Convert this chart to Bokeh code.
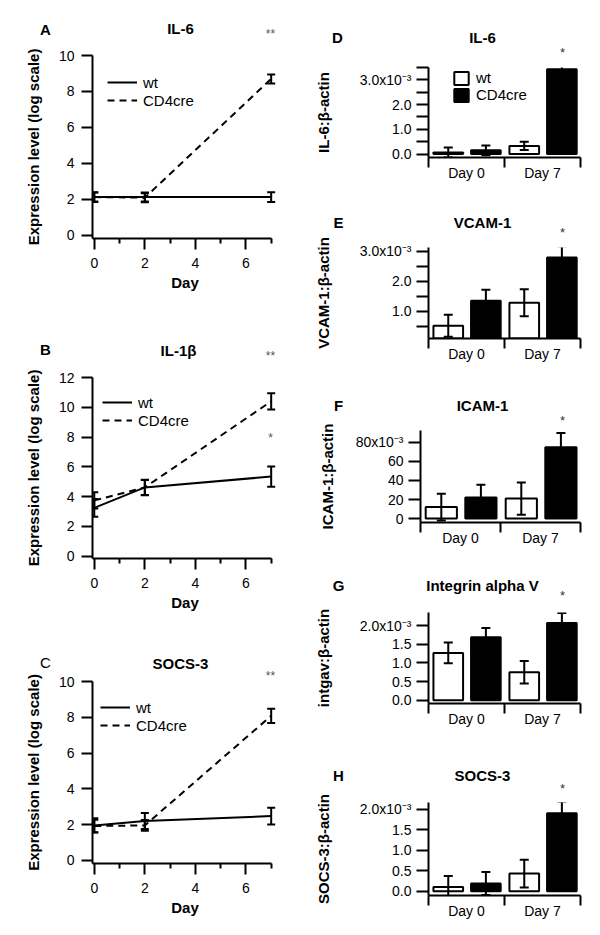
from bokeh.plotting import figure
from bokeh.models import (Range1d, FixedTicker, Legend, LegendItem, Label,
                          Whisker, TeeHead, ColumnDataSource)
from bokeh.layouts import row, column
from bokeh.embed import file_html
from bokeh.resources import INLINE

FONT = "Liberation Sans"

# ---------------- data: time courses (log scale expression) ----------------
days = [0, 2, 7]
il6_wt = [2.13, 2.13, 2.13]
il6_wt_err = [0.27, 0.25, 0.27]
il6_cre = [2.13, 2.10, 8.70]
il6_cre_err = [0.25, 0.25, 0.25]

il1b_wt = [3.25, 4.62, 5.35]
il1b_wt_err = [0.60, 0.52, 0.68]
il1b_cre = [3.75, 4.62, 10.40]
il1b_cre_err = [0.55, 0.50, 0.55]

socs3_wt = [1.95, 2.20, 2.47]
socs3_wt_err = [0.40, 0.45, 0.47]
socs3_cre = [1.92, 1.95, 8.08]
socs3_cre_err = [0.35, 0.30, 0.40]

# ---------------- data: bar panels (x10^-3, ratio to beta-actin) ----------------
groups = ["Day 0", "Day 7"]
il6b_wt = [0.06, 0.33]
il6b_wt_err = [0.20, 0.17]
il6b_cre = [0.15, 3.43]
il6b_cre_err = [0.20, 0.20]

vcam_wt = [0.52, 1.29]
vcam_wt_err = [0.37, 0.45]
vcam_cre = [1.35, 2.80]
vcam_cre_err = [0.37, 0.37]

icam_wt = [12, 21]
icam_wt_err = [14, 17]
icam_cre = [22, 75]
icam_cre_err = [13.5, 15]

itgav_wt = [1.27, 0.75]
itgav_wt_err = [0.28, 0.30]
itgav_cre = [1.69, 2.07]
itgav_cre_err = [0.25, 0.27]

socs3b_wt = [0.10, 0.43]
socs3b_wt_err = [0.27, 0.34]
socs3b_cre = [0.19, 1.90]
socs3b_cre_err = [0.28, 0.28]

SUP = "x10\u207b\u00b3"
GRAY = "#555555"
DARK = "#333333"


def make_fig(w, h, bl, br, bt, bb, xr, yr, overlap):
    p = figure(width=w, height=h, x_range=Range1d(*xr), y_range=Range1d(*yr),
               output_backend="svg", toolbar_location=None,
               min_border_left=bl, min_border_right=br,
               min_border_top=bt, min_border_bottom=bb,
               frame_align=False, margin=(-overlap, 0, 0, 0))
    p.outline_line_color = None
    p.xgrid.visible = False
    p.ygrid.visible = False
    p.background_fill_alpha = 0
    p.border_fill_alpha = 0
    return p


def header(x0, top, h, texts):
    p = figure(width=300, height=h, x_range=Range1d(x0, x0 + 300),
               y_range=Range1d(top + h, top), x_axis_type=None, y_axis_type=None,
               output_backend="svg", toolbar_location=None, min_border=0,
               frame_align=False)
    p.outline_line_color = None
    p.background_fill_alpha = 0
    p.border_fill_alpha = 0
    for (x, y, text, size, bold, color) in texts:
        p.add_layout(Label(x=x, y=y, text=text, text_font=FONT, text_font_size=size,
                           text_font_style="bold" if bold else "normal",
                           text_color=color, text_align="center", text_baseline="middle"))
    return p


def style_axis(ax, tick_out, standoff, label_standoff):
    ax.axis_line_width = 2
    ax.axis_line_color = "black"
    ax.major_tick_line_width = 2
    ax.minor_tick_line_width = 2
    ax.major_tick_line_color = "black"
    ax.minor_tick_line_color = "black"
    ax.major_tick_in = 0
    ax.minor_tick_in = 0
    ax.major_tick_out = tick_out
    ax.major_label_text_font = FONT
    ax.major_label_text_font_size = "14px"
    ax.major_label_text_color = "black"
    ax.major_label_standoff = standoff
    ax.axis_label_text_font = FONT
    ax.axis_label_text_font_size = "15px"
    ax.axis_label_text_font_style = "bold"
    ax.axis_label_text_color = "black"
    ax.axis_label_standoff = label_standoff


def to_data(geo, rx, ry):
    fl, ft, fw, fh, (x0, x1), (y0, y1) = geo
    return x0 + (rx - fl) / fw * (x1 - x0), y1 - (ry - ft) / fh * (y1 - y0)


def add_whisker(p, xs, vals, errs, size):
    src = ColumnDataSource(dict(x=xs, upper=[v + e for v, e in zip(vals, errs)],
                                lower=[v - e for v, e in zip(vals, errs)]))
    p.add_layout(Whisker(source=src, base="x", upper="upper", lower="lower",
                         line_width=2, line_color="black", level="annotation",
                         upper_head=TeeHead(size=size, line_width=2, line_color="black"),
                         lower_head=TeeHead(size=size, line_width=2, line_color="black")))


def line_panel(top, h, bt, bb, overlap, yr, yticks, inner_stars, legend_loc,
               wt, wt_err, cre, cre_err):
    w, bl, br = 300, 92, 23
    xr = (-0.07, 7.25)
    p = make_fig(w, h, bl, br, bt, bb, xr, yr, overlap)
    geo = (bl, top + bt, w - bl - br, h - bt - bb, xr, yr)
    r_wt = p.line(days, wt, line_color="black", line_width=2)
    r_cre = p.line(days, cre, line_color="black", line_width=2, line_dash="7 5")
    add_whisker(p, days, wt, wt_err, 8)
    add_whisker(p, days, cre, cre_err, 8)

    p.xaxis.ticker = FixedTicker(ticks=[0, 2, 4, 6], minor_ticks=[1, 3, 5, 7])
    p.xaxis.bounds = (xr[0], 7)
    p.xaxis.axis_label = "Day"
    style_axis(p.xaxis[0], 11, 8, 3)
    p.xaxis.minor_tick_out = 5
    p.yaxis.ticker = FixedTicker(ticks=yticks, minor_ticks=[])
    p.yaxis.axis_label = "Expression level (log scale)"
    style_axis(p.yaxis[0], 11, 7, 14)

    leg = Legend(items=[LegendItem(label="wt", renderers=[r_wt]),
                        LegendItem(label="CD4cre", renderers=[r_cre])],
                 location=legend_loc, orientation="vertical",
                 background_fill_alpha=0, border_line_alpha=0,
                 padding=0, margin=0, spacing=0,
                 glyph_width=30, glyph_height=18, label_height=18, label_standoff=6,
                 label_text_font=FONT, label_text_font_size="15px", label_text_color="black")
    p.add_layout(leg)

    for (sx, sy, s) in inner_stars:
        x, y = to_data(geo, sx, sy)
        p.add_layout(Label(x=x, y=y, text=s, text_font=FONT, text_font_size="12px",
                           text_color=GRAY, text_align="center", text_baseline="middle"))
    return p


def bar_panel(h, bl, bt, bb, overlap, yr, yticks, ylabels, ylabel,
              wt, wt_err, cre, cre_err, legend_loc=None):
    w, br = 300, 20
    xr = (0, len(groups))
    p = make_fig(w, h, bl, br, bt, bb, xr, yr, overlap)
    x_wt = [i + 0.26 for i in range(len(groups))]
    x_cre = [i + 0.755 for i in range(len(groups))]
    r_wt = p.vbar(x=x_wt, top=wt, bottom=0, width=0.39, fill_color="white",
                  line_color="black", line_width=2)
    r_cre = p.vbar(x=x_cre, top=cre, bottom=0, width=0.39, fill_color="black",
                   line_color="black", line_width=2)
    add_whisker(p, x_wt, wt, wt_err, 9)
    add_whisker(p, x_cre, cre, cre_err, 9)

    centers = [i + 0.5 for i in range(len(groups))]
    p.xaxis.ticker = FixedTicker(ticks=centers, minor_ticks=list(range(len(groups) + 1)))
    p.xaxis.major_label_overrides = dict(zip(centers, groups))
    style_axis(p.xaxis[0], 0, -3, 3)
    p.xaxis.minor_tick_out = 10

    p.yaxis.ticker = FixedTicker(ticks=yticks, minor_ticks=[])
    p.yaxis.major_label_overrides = dict(zip(yticks, ylabels))
    p.yaxis.axis_label = ylabel
    style_axis(p.yaxis[0], 12, 5, 25 - (128 - bl))

    if legend_loc is not None:
        leg = Legend(items=[LegendItem(label="wt", renderers=[r_wt]),
                            LegendItem(label="CD4cre", renderers=[r_cre])],
                     location=legend_loc, orientation="vertical",
                     background_fill_alpha=0, border_line_alpha=0,
                     padding=0, margin=0, spacing=0,
                     glyph_width=18, glyph_height=16, label_height=16, label_standoff=6,
                     label_text_font=FONT, label_text_font_size="15px", label_text_color="black")
        p.add_layout(leg)
    return p


# ---------------- left column ----------------
hA = header(0, 0, 48, [(45, 29, "A", "15px", True, "black"),
                       (180, 28, "IL-6", "15px", True, "black"),
                       (270, 33, "**", "12px", False, GRAY)])
pA = line_panel(0, 312, 55, 74, 48, (-0.17, 10), [0, 2, 4, 6, 8, 10], [], (15, 129),
                il6_wt, il6_wt_err, il6_cre, il6_cre_err)
hB = header(0, 312, 56, [(45, 349, "B", "15px", True, "black"),
                         (178, 350, "IL-1\u03b2", "15px", True, "black"),
                         (270, 355, "**", "12px", False, GRAY)])
pB = line_panel(312, 306, 65, 60, 56, (-0.15, 12), [0, 2, 4, 6, 8, 10, 12],
                [(270, 437, "*")], (10, 129),
                il1b_wt, il1b_wt_err, il1b_cre, il1b_cre_err)
hC = header(0, 618, 66, [(45, 662, "C", "15px", False, "black"),
                         (180, 663, "SOCS-3", "15px", True, "black"),
                         (270, 675, "**", "12px", False, GRAY)])
pC = line_panel(618, 317, 63, 72, 66, (-0.18, 10), [0, 2, 4, 6, 8, 10], [], (8, 129),
                socs3_wt, socs3_wt_err, socs3_cre, socs3_cre_err)

# ---------------- right column ----------------
hD = header(300, 0, 62, [(337, 37, "D", "15px", True, "black"),
                         (482, 37, "IL-6", "15px", True, "black"),
                         (562, 52, "*", "13px", False, DARK)])
pD = bar_panel(192, 128, 67, 35, 62, (-0.14, 3.5),
               [0, 0.5, 1, 1.5, 2, 2.5, 3, 3.5], ["0.0", "", "1.0", "", "2.0", "", "3.0" + SUP, ""],
               "IL-6:\u03b2-actin", il6b_wt, il6b_wt_err, il6b_cre, il6b_cre_err,
               legend_loc=(24, 54))
hE = header(300, 192, 50, [(338, 222, "E", "15px", True, "black"),
                           (482, 222, "VCAM-1", "15px", True, "black"),
                           (562, 232, "*", "13px", False, DARK)])
pE = bar_panel(186, 128, 55, 40, 50, (0.094, 3.13),
               [0.5, 1, 1.5, 2, 2.5, 3], ["", "1.0", "", "2.0", "", "3.0" + SUP],
               "VCAM-1:\u03b2-actin", vcam_wt, vcam_wt_err, vcam_cre, vcam_cre_err)
hF = header(300, 378, 52, [(338, 405, "F", "15px", True, "black"),
                           (482, 405, "ICAM-1", "15px", True, "black"),
                           (562, 420, "*", "13px", False, DARK)])
pF = bar_panel(190, 120, 52, 46, 52, (-4.2, 92.6),
               [0, 20, 40, 60, 80], ["0", "20", "40", "60", "80" + SUP],
               "ICAM-1:\u03b2-actin", icam_wt, icam_wt_err, icam_cre, icam_cre_err)
hG = header(300, 568, 40, [(338, 585, "G", "15px", True, "black"),
                           (482, 585, "Integrin alpha V", "15px", True, "black"),
                           (562, 595, "*", "13px", False, DARK)])
pG = bar_panel(190, 128, 44, 55, 40, (-0.088, 2.355),
               [0, 0.5, 1, 1.5, 2], ["0.0", "0.5", "1.0", "1.5", "2.0" + SUP],
               "intgav:\u03b2-actin", itgav_wt, itgav_wt_err, itgav_cre, itgav_cre_err)
hH = header(300, 758, 40, [(338, 775, "H", "15px", True, "black"),
                           (482, 775, "SOCS-3", "15px", True, "black"),
                           (562, 788, "*", "13px", False, DARK)])
pH = bar_panel(177, 128, 44, 40, 40, (-0.105, 2.164),
               [0, 0.5, 1, 1.5, 2], ["0.0", "0.5", "1.0", "1.5", "2.0" + SUP],
               "SOCS-3:\u03b2-actin", socs3b_wt, socs3b_wt_err, socs3b_cre, socs3b_cre_err)

layout = row(column(hA, pA, hB, pB, hC, pC),
             column(hD, pD, hE, pE, hF, pF, hG, pG, hH, pH))

with open("out.html", "w") as f:
    f.write(file_html(layout, INLINE))
